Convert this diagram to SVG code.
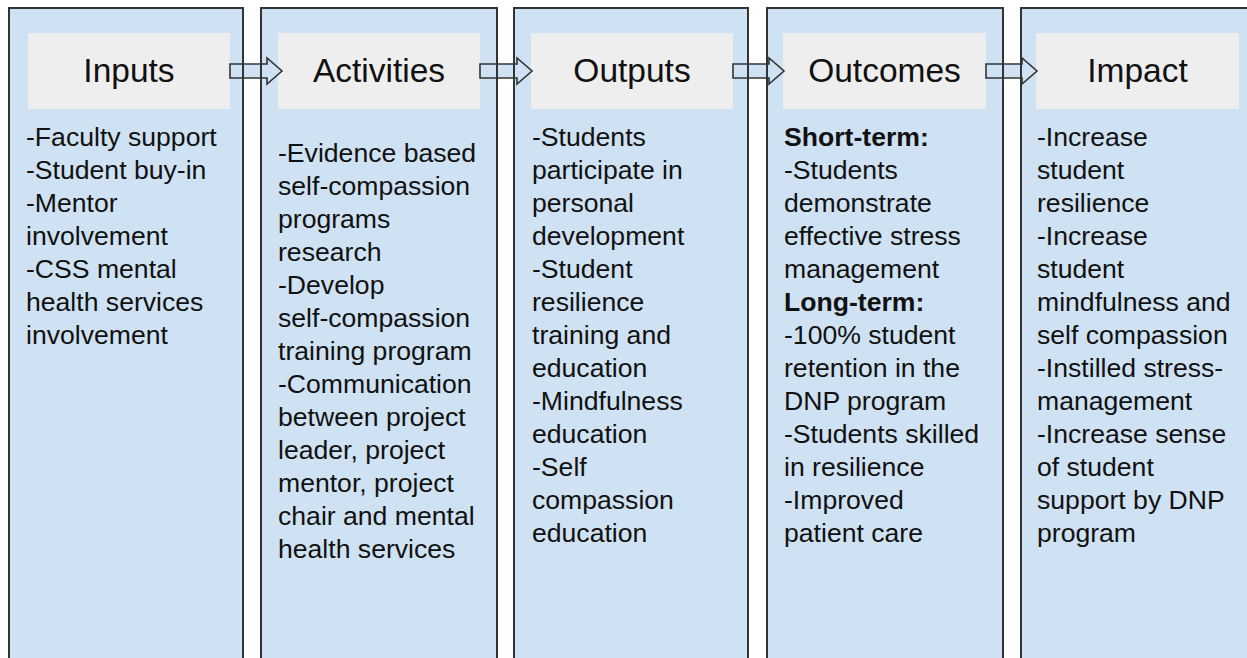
<svg xmlns="http://www.w3.org/2000/svg" width="1247" height="658" viewBox="0 0 1247 658">
<style>
.col{fill:#cfe2f3;stroke:none}
.colb{fill:none;stroke:#333;stroke-width:2}
.hdr{fill:#eeeeee;stroke:none}
.ht{font-family:"Liberation Sans",Arial,sans-serif;font-size:33.5px;fill:#111;text-anchor:middle}
.bt{font-family:"Liberation Sans",Arial,sans-serif;font-size:26.6px;fill:#111}
.b{font-weight:bold}
.arr{fill:#cfe2f3;stroke:#333;stroke-width:1.6;stroke-linejoin:miter}
</style>
<rect width="1247" height="658" fill="#ffffff"/>
<g id="fills">
<rect class="col" x="9" y="8" width="234" height="700"/>
<rect class="col" x="261" y="8" width="236" height="700"/>
<rect class="col" x="514" y="8" width="234" height="700"/>
<rect class="col" x="767" y="8" width="236" height="700"/>
<rect class="col" x="1021" y="8" width="260" height="700"/>
</g>
<g id="node-inputs">
<rect class="hdr" x="28" y="33" width="202" height="76"/>
<text class="ht" x="129" y="82">Inputs</text>
<text class="bt" x="26" y="146"><tspan x="26">-Faculty support</tspan><tspan x="26" dy="33">-Student buy-in</tspan><tspan x="26" dy="33">-Mentor</tspan><tspan x="26" dy="33">involvement</tspan><tspan x="26" dy="33">-CSS mental</tspan><tspan x="26" dy="33">health services</tspan><tspan x="26" dy="33">involvement</tspan></text>
</g>
<g id="node-activities">
<rect class="hdr" x="278" y="33" width="202" height="76"/>
<text class="ht" x="379" y="82">Activities</text>
<text class="bt" x="278" y="162"><tspan x="278">-Evidence based</tspan><tspan x="278" dy="33">self-compassion</tspan><tspan x="278" dy="33">programs</tspan><tspan x="278" dy="33">research</tspan><tspan x="278" dy="33">-Develop</tspan><tspan x="278" dy="33">self-compassion</tspan><tspan x="278" dy="33">training program</tspan><tspan x="278" dy="33">-Communication</tspan><tspan x="278" dy="33">between project</tspan><tspan x="278" dy="33">leader, project</tspan><tspan x="278" dy="33">mentor, project</tspan><tspan x="278" dy="33">chair and mental</tspan><tspan x="278" dy="33">health services</tspan></text>
</g>
<g id="node-outputs">
<rect class="hdr" x="531" y="33" width="202" height="76"/>
<text class="ht" x="632" y="82">Outputs</text>
<text class="bt" x="532" y="146"><tspan x="532">-Students</tspan><tspan x="532" dy="33">participate in</tspan><tspan x="532" dy="33">personal</tspan><tspan x="532" dy="33">development</tspan><tspan x="532" dy="33">-Student</tspan><tspan x="532" dy="33">resilience</tspan><tspan x="532" dy="33">training and</tspan><tspan x="532" dy="33">education</tspan><tspan x="532" dy="33">-Mindfulness</tspan><tspan x="532" dy="33">education</tspan><tspan x="532" dy="33">-Self</tspan><tspan x="532" dy="33">compassion</tspan><tspan x="532" dy="33">education</tspan></text>
</g>
<g id="node-outcomes">
<rect class="hdr" x="783" y="33" width="203" height="76"/>
<text class="ht" x="884.5" y="82">Outcomes</text>
<text class="bt" x="784" y="146"><tspan x="784" class="b">Short-term:</tspan><tspan x="784" dy="33">-Students</tspan><tspan x="784" dy="33">demonstrate</tspan><tspan x="784" dy="33">effective stress</tspan><tspan x="784" dy="33">management</tspan><tspan x="784" dy="33" class="b">Long-term:</tspan><tspan x="784" dy="33">-100% student</tspan><tspan x="784" dy="33">retention in the</tspan><tspan x="784" dy="33">DNP program</tspan><tspan x="784" dy="33">-Students skilled</tspan><tspan x="784" dy="33">in resilience</tspan><tspan x="784" dy="33">-Improved</tspan><tspan x="784" dy="33">patient care</tspan></text>
</g>
<g id="node-impact">
<rect class="hdr" x="1036" y="33" width="203" height="76"/>
<text class="ht" x="1137.5" y="82">Impact</text>
<text class="bt" x="1037" y="146"><tspan x="1037">-Increase</tspan><tspan x="1037" dy="33">student</tspan><tspan x="1037" dy="33">resilience</tspan><tspan x="1037" dy="33">-Increase</tspan><tspan x="1037" dy="33">student</tspan><tspan x="1037" dy="33">mindfulness and</tspan><tspan x="1037" dy="33">self compassion</tspan><tspan x="1037" dy="33">-Instilled stress-</tspan><tspan x="1037" dy="33">management</tspan><tspan x="1037" dy="33">-Increase sense</tspan><tspan x="1037" dy="33">of student</tspan><tspan x="1037" dy="33">support by DNP</tspan><tspan x="1037" dy="33">program</tspan></text>
</g>
<g id="connectors">
<path class="arr" d="M230,64 H267 V58 L282,71 L267,84 V78 H230 Z"/>
<path class="arr" d="M480,64 H517 V58 L532,71 L517,84 V78 H480 Z"/>
<path class="arr" d="M733,64 H769 V58 L784,71 L769,84 V78 H733 Z"/>
<path class="arr" d="M986,64 H1022 V58 L1037,71 L1022,84 V78 H986 Z"/>
</g>
<g id="borders">
<rect class="colb" x="9" y="8" width="234" height="700"/>
<rect class="colb" x="261" y="8" width="236" height="700"/>
<rect class="colb" x="514" y="8" width="234" height="700"/>
<rect class="colb" x="767" y="8" width="236" height="700"/>
<rect class="colb" x="1021" y="8" width="260" height="700"/>
</g>
</svg>
